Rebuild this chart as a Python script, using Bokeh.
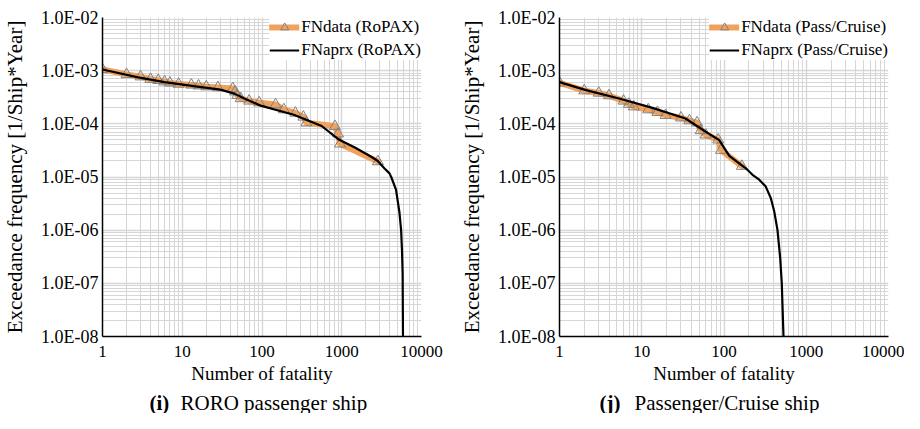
from bokeh.plotting import figure
from bokeh.layouts import row, column
from bokeh.models import (Range1d, FixedTicker, CustomJSTickFormatter, Legend,
                          LegendItem)
from bokeh.core.properties import value
from bokeh.embed import file_html
from bokeh.resources import INLINE

# ---------------- data ----------------
# (i) RORO passenger ship
FN_X_RO = [1, 2, 3, 4, 5, 6, 7, 9, 13, 16, 20, 28, 43, 46, 49, 54, 69, 92,
           148, 188, 262, 330, 360, 820, 900, 950, 2840]
FN_Y_RO = [1.05e-3, 8.5e-4, 7.7e-4, 6.9e-4, 6.6e-4, 6.2e-4, 5.9e-4, 5.6e-4,
           5.4e-4, 5.2e-4, 5.0e-4, 4.8e-4, 4.6e-4, 4.0e-4, 3.45e-4, 3.0e-4,
           2.7e-4, 2.5e-4, 2.3e-4, 1.85e-4, 1.6e-4, 1.35e-4, 1.05e-4, 9.0e-5,
           6.5e-5, 4.2e-5, 1.95e-5]
AP_X_RO = [1, 2.8, 6, 14, 30, 45, 60, 96, 250, 560, 905, 1460, 2340, 2830,
           3440, 3970, 4170, 4790, 5280, 5550, 5700, 5800, 5860]
AP_Y_RO = [1.05e-3, 7.5e-4, 6.1e-4, 5.1e-4, 4.4e-4, 3.7e-4, 3.0e-4, 2.2e-4,
           1.48e-4, 9.1e-5, 5.15e-5, 3.6e-5, 2.4e-5, 2.0e-5, 1.45e-5, 1.17e-5,
           1.0e-5, 5.8e-6, 2.2e-6, 1.0e-6, 4.0e-7, 1.5e-7, 1.0e-8]

# (j) Passenger/Cruise ship
FN_X_PC = [1, 2, 3, 4, 6, 7, 8, 12, 15.5, 19.5, 30, 38, 47, 52, 60, 85, 92, 165]
FN_Y_PC = [5.9e-4, 4.2e-4, 3.8e-4, 3.4e-4, 2.7e-4, 2.35e-4, 2.1e-4, 1.85e-4,
           1.65e-4, 1.45e-4, 1.3e-4, 1.15e-4, 1.05e-4, 7.5e-5, 6.2e-5, 5.0e-5,
           3.2e-5, 1.6e-5]
AP_X_PC = [1, 2.1, 5.3, 13.5, 34, 60, 87.5, 116, 184, 222, 268, 322, 371, 407,
           447, 482, 504, 529]
AP_Y_PC = [6.1e-4, 4.3e-4, 3.0e-4, 2.0e-4, 1.26e-4, 7.1e-5, 4.95e-5, 2.5e-5,
           1.46e-5, 1.1e-5, 8.9e-6, 6.6e-6, 4.0e-6, 2.3e-6, 1.0e-6, 3.0e-7,
           1.0e-7, 1.0e-8]

X_TICKS = [1, 10, 100, 1000, 10000]
Y_TICKS = [1e-8, 1e-7, 1e-6, 1e-5, 1e-4, 1e-3, 1e-2]
X_LABEL = "Number of fatality"
Y_LABEL = "Exceedance frequency [1/Ship*Year]"
CAPTIONS = [("(i)", "RORO passenger ship"), ("(j)", "Passenger/Cruise ship")]

FONT = "Liberation Serif"
ORANGE = "#F0A15C"
GRID = "#D6D6D6"

X_MINOR = [m * 10 ** k for k in range(0, 4) for m in range(2, 10)]
Y_MINOR = [m * 10.0 ** k for k in range(-8, -2) for m in range(2, 10)]

Y_FMT = CustomJSTickFormatter(code="""
const e = Math.round(Math.log10(tick));
const s = e < 0 ? "-" : "+";
return "1.0E" + s + String(Math.abs(e)).padStart(2, "0");
""")
X_FMT = CustomJSTickFormatter(code="return String(Math.round(tick));")

MAIN_H = 391
CAP_H = 22
FIG_W = 452


def make_panel(fn_x, fn_y, ap_x, ap_y, label_data, label_aprx,
               border_left, border_right, border_top, frame_h):
    p = figure(width=FIG_W, height=MAIN_H, x_axis_type="log", y_axis_type="log",
               x_range=Range1d(1, 10000), y_range=Range1d(1e-8, 1e-2),
               output_backend="svg", toolbar_location=None,
               min_border_left=border_left, min_border_right=border_right,
               min_border_top=border_top,
               min_border_bottom=MAIN_H - border_top - frame_h)
    p.outline_line_color = None
    p.background_fill_color = "white"

    p.xaxis.ticker = FixedTicker(ticks=X_TICKS, minor_ticks=X_MINOR)
    p.yaxis.ticker = FixedTicker(ticks=Y_TICKS, minor_ticks=Y_MINOR)
    p.xaxis.formatter = X_FMT
    p.yaxis.formatter = Y_FMT
    for ax in (p.xaxis, p.yaxis):
        ax.major_tick_line_color = None
        ax.minor_tick_line_color = None
        ax.major_tick_out = 0
        ax.major_tick_in = 0
        ax.minor_tick_out = 0
        ax.minor_tick_in = 0
        ax.axis_line_color = "black"
        ax.axis_line_width = 1.5
        ax.major_label_text_font = FONT
        ax.major_label_text_color = "black"
        ax.axis_label_text_font = FONT
        ax.axis_label_text_font_style = "normal"
        ax.axis_label_text_color = "black"
    p.xaxis.major_label_text_font_size = "17px"
    p.yaxis.major_label_text_font_size = "18px"
    p.xaxis.axis_label_text_font_size = "19px"
    p.yaxis.axis_label_text_font_size = "21px"
    p.xaxis.axis_label = X_LABEL
    p.yaxis.axis_label = Y_LABEL
    p.xaxis.major_label_standoff = 9
    p.xaxis.axis_label_standoff = 3
    p.yaxis.major_label_standoff = 4
    p.yaxis.axis_label_standoff = 11

    for g in (p.xgrid, p.ygrid):
        g.grid_line_color = GRID
        g.grid_line_width = 1.4
        g.minor_grid_line_color = GRID
        g.minor_grid_line_width = 1

    r_line = p.line(fn_x, fn_y, line_color=ORANGE, line_width=6,
                    line_join="round", line_cap="round")
    r_pts = p.scatter(fn_x, fn_y, marker="triangle", size=11,
                      fill_color=None, line_color="#808080", line_width=1)
    r_ap = p.line(ap_x, ap_y, line_color="black", line_width=2.2)

    legend = Legend(items=[LegendItem(label=label_data, renderers=[r_line, r_pts]),
                           LegendItem(label=label_aprx, renderers=[r_ap])],
                    location="top_right")
    legend.label_text_font = FONT
    legend.label_text_font_size = "17px"
    legend.label_text_color = "black"
    legend.glyph_width = 30
    legend.glyph_height = 20
    legend.label_standoff = 2
    legend.spacing = 3
    legend.padding = 6
    legend.margin = 0
    legend.border_line_color = None
    legend.background_fill_color = "white"
    legend.background_fill_alpha = 1.0
    p.add_layout(legend)
    return p


def make_caption(tag, text, tag_x, text_x):
    c = figure(width=FIG_W, height=CAP_H, x_range=Range1d(0, FIG_W),
               y_range=Range1d(0, 1), output_backend="svg",
               toolbar_location=None, x_axis_location=None,
               y_axis_location=None, min_border=0)
    c.outline_line_color = None
    c.xgrid.visible = False
    c.ygrid.visible = False
    c.text(x=[tag_x], y=[0.5], text=[tag], text_font=value(FONT),
           text_font_size="21px", text_font_style="bold", text_color="black",
           text_baseline="middle", text_align="left")
    c.text(x=[text_x], y=[0.5], text=[text], text_font=value(FONT),
           text_font_size="21px", text_color="black",
           text_baseline="middle", text_align="left")
    return c


p1 = make_panel(FN_X_RO, FN_Y_RO, AP_X_RO, AP_Y_RO,
                "FNdata (RoPAX)", "FNaprx (RoPAX)",
                border_left=99, border_right=31, border_top=9, frame_h=327)
p2 = make_panel(FN_X_PC, FN_Y_PC, AP_X_PC, AP_Y_PC,
                "FNdata (Pass/Cruise)", "FNaprx (Pass/Cruise)",
                border_left=107, border_right=16, border_top=17, frame_h=321)
c1 = make_caption(CAPTIONS[0][0], CAPTIONS[0][1], 149, 180)
c2 = make_caption(CAPTIONS[1][0], CAPTIONS[1][1], 147, 182)

layout = column(row(p1, p2, spacing=0), row(c1, c2, spacing=0), spacing=0)
open("out.html", "w").write(file_html(layout, INLINE))
